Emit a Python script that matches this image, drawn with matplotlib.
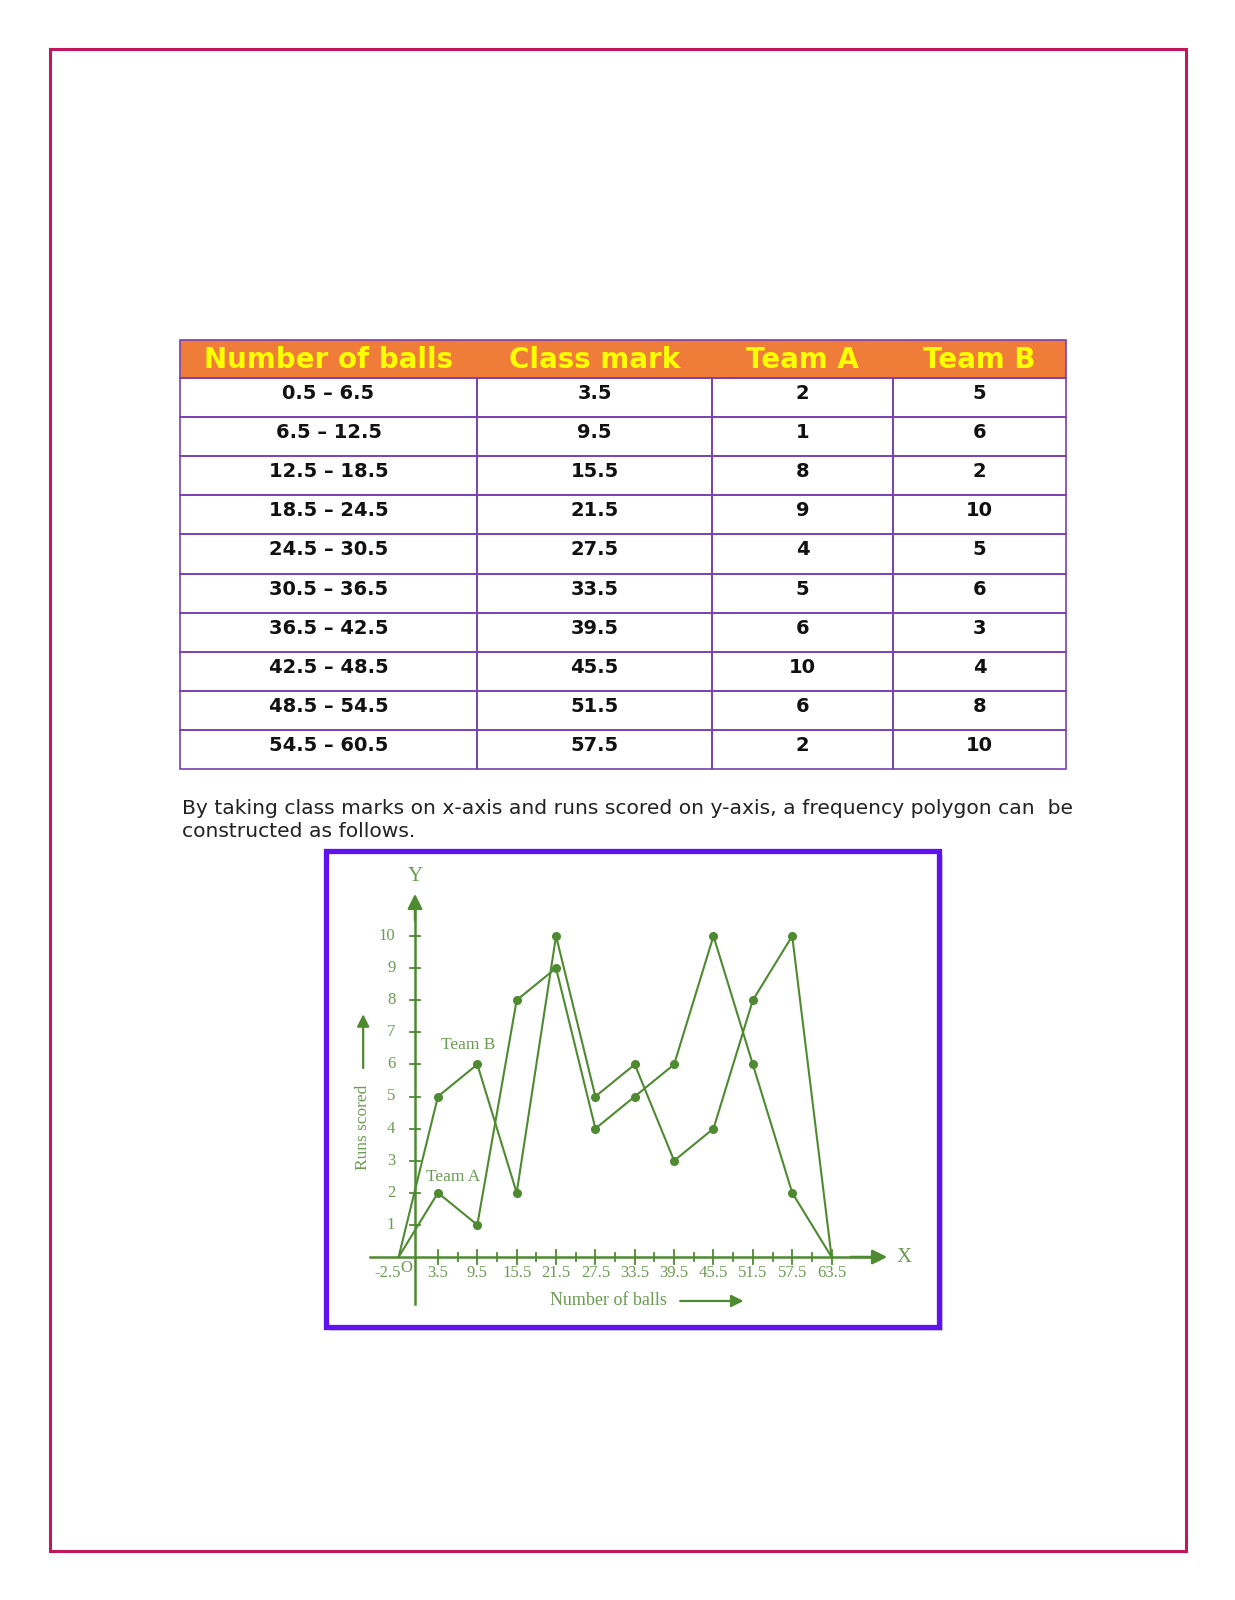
import matplotlib
matplotlib.use("Agg")
import matplotlib.pyplot as plt
import matplotlib.patches as patches

# ---- data ----
headers = ["Number of balls", "Class mark", "Team A", "Team B"]
lower = [0.5, 6.5, 12.5, 18.5, 24.5, 30.5, 36.5, 42.5, 48.5, 54.5]
upper = [6.5, 12.5, 18.5, 24.5, 30.5, 36.5, 42.5, 48.5, 54.5, 60.5]
class_marks = [3.5, 9.5, 15.5, 21.5, 27.5, 33.5, 39.5, 45.5, 51.5, 57.5]
team_a = [2, 1, 8, 9, 4, 5, 6, 10, 6, 2]
team_b = [5, 6, 2, 10, 5, 6, 3, 4, 8, 10]
x_start, x_end = -2.5, 63.5  # polygon closing points

caption = ("By taking class marks on x-axis and runs scored on y-axis, a frequency polygon can  be\n"
           "constructed as follows.")

W, H = 1235, 1600
fig = plt.figure(figsize=(W / 100, H / 100), dpi=100)
fig.patch.set_facecolor("white")

# page axes in pixel coordinates
page = fig.add_axes([0, 0, 1, 1])
page.set_xlim(0, W)
page.set_ylim(H, 0)
page.axis("off")

# crimson page border
page.add_patch(patches.Rectangle((50, 49), 1136, 1502, fill=False,
                                 edgecolor="#c2185b", linewidth=2.2))

# ---- table ----
col_edges = [180, 477, 712, 893, 1066]
head_top, head_bot = 340, 378
row_h = 39.1
grid_col = "#7a3fb0"

page.add_patch(patches.Rectangle((col_edges[0], head_top), col_edges[-1] - col_edges[0],
                                 head_bot - head_top, facecolor="#f07c3a",
                                 edgecolor=grid_col, linewidth=1.2))
for j, h in enumerate(headers):
    cx = (col_edges[j] + col_edges[j + 1]) / 2
    page.text(cx, (head_top + head_bot) / 2 + 1, h, ha="center", va="center",
              color="#ffff00", fontsize=20, fontweight="bold", family="DejaVu Sans")

n = len(class_marks)
for i in range(n):
    top = head_bot + i * row_h
    cells = [f"{lower[i]} \u2013 {upper[i]}", f"{class_marks[i]}", f"{team_a[i]}", f"{team_b[i]}"]
    for j, c in enumerate(cells):
        page.add_patch(patches.Rectangle((col_edges[j], top), col_edges[j + 1] - col_edges[j],
                                         row_h, fill=False, edgecolor=grid_col, linewidth=1.2))
        cx = (col_edges[j] + col_edges[j + 1]) / 2
        page.text(cx, top + row_h / 2 - 4, c, ha="center", va="center",
                  color="#111111", fontsize=14, fontweight="bold", family="DejaVu Sans")

# caption
page.text(182, 820, caption, ha="left", va="center", fontsize=14.6,
          color="#222222", family="DejaVu Sans", linespacing=1.27)

# ---- chart box ----
bx0, by0, bx1, by1 = 326, 851, 939, 1327
page.add_patch(patches.Rectangle((bx0 + 4, by0 + 4), bx1 - bx0, by1 - by0,
                                 facecolor="#b8b8b8", edgecolor="none", alpha=0.6))
page.add_patch(patches.Rectangle((bx0, by0), bx1 - bx0, by1 - by0,
                                 facecolor="white", edgecolor="#5f12ee", linewidth=3.8))

ax = fig.add_axes([bx0 / W, 1 - by1 / H, (bx1 - bx0) / W, (by1 - by0) / H])
ax.set_facecolor("none")
ax.axis("off")
# mapping: origin at px (415, 1257), 6.56 px per ball, 32.1 px per run
ox, oy, sx, sy = 415, 1257, 6.56, 32.1
ax.set_xlim((bx0 - ox) / sx, (bx1 - ox) / sx)
ax.set_ylim((oy - by1) / sy, (oy - by0) / sy)

green = "#4e8a30"
txt_green = "#6b9b52"

# axes with arrows
ax.plot([-6.9, 70], [0, 0], color=green, lw=1.8)
ax.annotate("", xy=(72.4, 0), xytext=(66, 0),
            arrowprops=dict(arrowstyle="-|>", color=green, lw=1.8, mutation_scale=22))
ax.plot([0, 0], [-1.45, 10.8], color=green, lw=1.8)
ax.annotate("", xy=(0, 11.4), xytext=(0, 10.4),
            arrowprops=dict(arrowstyle="-|>", color=green, lw=1.8, mutation_scale=22))
ax.text(74.5, 0, "X", ha="center", va="center", color=txt_green, fontsize=15,
        family="Liberation Serif")
ax.text(0, 11.85, "Y", ha="center", va="center", color=txt_green, fontsize=15,
        family="Liberation Serif")

# y ticks
for v in range(1, 11):
    ax.plot([-0.8, 0.8], [v, v], color=green, lw=1.3)
    ax.text(-3.0, v, str(v), ha="right", va="center", color=txt_green, fontsize=12,
            family="Liberation Serif")

# x ticks
minor = [3.5 + 3 * k for k in range(21)]
for v in minor:
    h = 0.22 if v in class_marks or v == x_end else 0.13
    ax.plot([v, v], [-h, h], color=green, lw=1.3)
for v in class_marks + [x_end]:
    ax.text(v, -0.5, f"{v}", ha="center", va="center", color=txt_green, fontsize=12,
            family="Liberation Serif")
ax.text(-2.2, -0.5, "-2.5", ha="right", va="center", color=txt_green, fontsize=12,
        family="Liberation Serif")
ax.text(-1.4, -0.33, "O", ha="center", va="center", color=txt_green, fontsize=12,
        family="Liberation Serif")

# axis titles
ax.text(29.5, -1.37, "Number of balls", ha="center", va="center", color=txt_green,
        fontsize=13, family="Liberation Serif")
ax.annotate("", xy=(50.5, -1.37), xytext=(40, -1.37),
            arrowprops=dict(arrowstyle="-|>", color=green, lw=1.6, mutation_scale=18))
ax.text(-7.9, 4.05, "Runs scored", ha="center", va="center", rotation=90,
        color=txt_green, fontsize=12.5, family="Liberation Serif")
ax.annotate("", xy=(-7.9, 7.65), xytext=(-7.9, 5.8),
            arrowprops=dict(arrowstyle="-|>", color=green, lw=1.6, mutation_scale=18))

# frequency polygons
xa = [x_start] + class_marks + [x_end]
ax.plot(xa, [0] + team_a + [0], color=green, lw=1.5)
ax.plot(class_marks, team_a, "o", color=green, ms=5.5)
ax.plot(xa, [0] + team_b + [0], color=green, lw=1.5)
ax.plot(class_marks, team_b, "o", color=green, ms=5.5)

ax.text(8.1, 6.6, "Team B", ha="center", va="center", color=txt_green, fontsize=12.5,
        family="Liberation Serif")
ax.text(5.8, 2.5, "Team A", ha="center", va="center", color=txt_green, fontsize=12.5,
        family="Liberation Serif")

fig.savefig("out.png", dpi=100, facecolor="white")
